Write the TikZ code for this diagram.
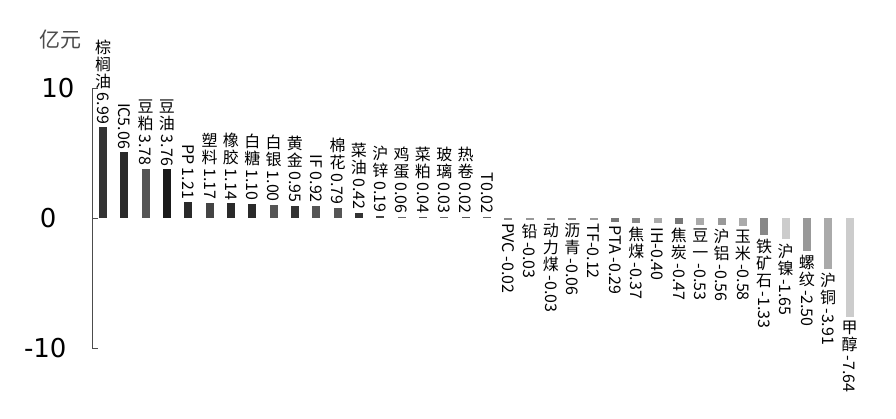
\documentclass[tikz,border=0pt]{standalone}
\usepackage{fontspec}
\setmainfont{DejaVu Sans}
\newfontfamily\cjk{Noto Sans CJK SC}
\newcommand\nn[1]{\raisebox{12pt}{\rotatebox{-90}{#1}}}
\begin{document}
\begin{tikzpicture}[x=1pt,y=-1pt,font=\fontsize{16}{17}\selectfont,
  lab/.style={inner sep=0pt,align=center,font=\fontsize{16}{17}\selectfont\cjk}]
\useasboundingbox (0,0) rectangle (896,418);
\fill[white] (0,0) rectangle (896,418);
\draw[black!70] (92,88) -- (92,348);
\foreach \yy in {88,218,348} \draw[black!70] (92,\yy) -- (98,\yy);
\node[font=\fontsize{26}{26}\selectfont,anchor=east] (t10) at (78,88) {10};
\node[font=\fontsize{26}{26}\selectfont,anchor=east] (t0) at (60,218) {0};
\node[font=\fontsize{26}{26}\selectfont,anchor=east] (tm10) at (70,348) {-10};
\node[font=\fontsize{21}{21}\selectfont\cjk,text=black!70] (unit) at (60,40) {亿元};
\foreach [count=\i from 0] \v/\t/\c in {
 6.99/{棕\\榈\\油\\\nn{6.99}}/333333,
 5.06/{\nn{IC5.06}}/2a2a2a,
 3.78/{豆\\粕\\\nn{3.78}}/555555,
 3.76/{豆\\油\\\nn{3.76}}/1a1a1a,
 1.21/{\nn{PP 1.21}}/2a2a2a,
 1.17/{塑\\料\\\nn{1.17}}/444444,
 1.14/{橡\\胶\\\nn{1.14}}/2a2a2a,
 1.10/{白\\糖\\\nn{1.10}}/2a2a2a,
 1.00/{白\\银\\\nn{1.00}}/555555,
 0.95/{黄\\金\\\nn{0.95}}/333333,
 0.92/{\nn{IF 0.92}}/555555,
 0.79/{棉\\花\\\nn{0.79}}/555555,
 0.42/{菜\\油\\\nn{0.42}}/333333,
 0.19/{沪\\锌\\\nn{0.19}}/444444,
 0.06/{鸡\\蛋\\\nn{0.06}}/666666,
 0.04/{菜\\粕\\\nn{0.04}}/555555,
 0.03/{玻\\璃\\\nn{0.03}}/666666,
 0.02/{热\\卷\\\nn{0.02}}/555555,
 0.02/{\nn{T0.02}}/666666,
 -0.02/{\nn{PVC -0.02}}/888888,
 -0.03/{铅\\\nn{-0.03}}/999999,
 -0.03/{动\\力\\煤\\\nn{-0.03}}/888888,
 -0.06/{沥\\青\\\nn{-0.06}}/888888,
 -0.12/{\nn{TF-0.12}}/999999,
 -0.29/{\nn{PTA -0.29}}/777777,
 -0.37/{焦\\煤\\\nn{-0.37}}/888888,
 -0.40/{\nn{IH-0.40}}/aaaaaa,
 -0.47/{焦\\炭\\\nn{-0.47}}/777777,
 -0.53/{豆\\一\\\nn{-0.53}}/aaaaaa,
 -0.56/{沪\\铝\\\nn{-0.56}}/999999,
 -0.58/{玉\\米\\\nn{-0.58}}/aaaaaa,
 -1.33/{铁\\矿\\石\\\nn{-1.33}}/888888,
 -1.65/{沪\\镍\\\nn{-1.65}}/cccccc,
 -2.50/{螺\\纹\\\nn{-2.50}}/999999,
 -3.91/{沪\\铜\\\nn{-3.91}}/aaaaaa,
 -7.64/{甲\\醇\\\nn{-7.64}}/cccccc}{
  \pgfmathsetmacro\xx{103+21.33*\i}
  \pgfmathsetmacro\h{max(abs(\v)*13,1.5)}
  \definecolor{bc}{HTML}{\c}
  \pgfmathparse{\v>0?1:0}
  \ifnum\pgfmathresult=1
    \fill[bc] (\xx-4,218) rectangle (\xx+4,218-\h);
    \node[lab,anchor=south] (l\i) at (\xx,218-\h-3) {\t};
  \else
    \fill[bc] (\xx-4,218) rectangle (\xx+4,218+\h);
    \node[lab,anchor=north] (l\i) at (\xx,218+\h+4) {\t};
  \fi
}
\end{tikzpicture}
\end{document}
